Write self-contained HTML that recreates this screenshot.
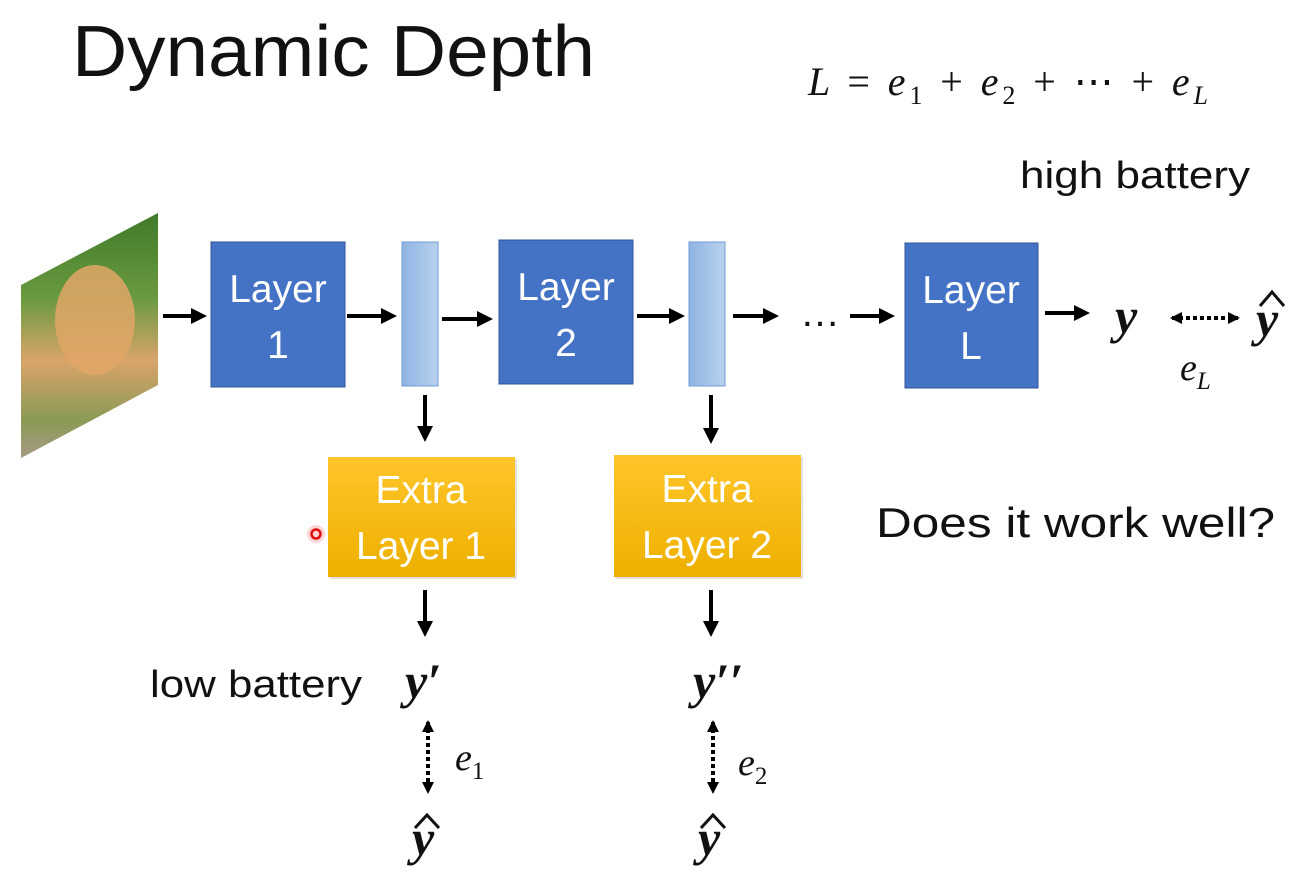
<!DOCTYPE html>
<html><head><meta charset="utf-8"><style>
html,body{margin:0;padding:0;background:#fff;}
svg{display:block;}
</style></head><body>
<svg width="1312" height="875" viewBox="0 0 1312 875" xmlns="http://www.w3.org/2000/svg">
<defs>
<marker id="ah" markerWidth="4" markerHeight="4" refX="3" refY="2" orient="auto" markerUnits="strokeWidth"><path d="M0,0 L4,2 L0,4 z" fill="#000"/></marker>
<marker id="as" markerWidth="3" markerHeight="3" refX="2.5" refY="1.5" orient="auto-start-reverse" markerUnits="strokeWidth"><path d="M0,0 L3,1.5 L0,3 z" fill="#000"/></marker>
<linearGradient id="bar" x1="0" x2="1" y1="0" y2="0"><stop offset="0" stop-color="#8FB4E3"/><stop offset="1" stop-color="#B9D1EE"/></linearGradient>
<linearGradient id="org" x1="0" x2="0" y1="0" y2="1"><stop offset="0" stop-color="#FFC52A"/><stop offset="1" stop-color="#EDB000"/></linearGradient>
<linearGradient id="cat" x1="0" x2="0" y1="0" y2="1"><stop offset="0" stop-color="#3f7a2a"/><stop offset="0.35" stop-color="#6a9a40"/><stop offset="0.6" stop-color="#d9a46a"/><stop offset="0.85" stop-color="#8a9a55"/><stop offset="1" stop-color="#a89a85"/></linearGradient>
</defs>
<text x="72" y="76" font-family="Liberation Sans, sans-serif" font-size="72" fill="#111" textLength="523" lengthAdjust="spacingAndGlyphs">Dynamic Depth</text>
<text x="808" y="95" font-family="Liberation Serif, serif" font-style="italic" font-size="40" fill="#111" textLength="400" lengthAdjust="spacing">L <tspan font-style="normal">=</tspan> e<tspan font-size="26" dy="9" font-style="normal">1</tspan><tspan dy="-9" font-style="normal"> + </tspan>e<tspan font-size="26" dy="9" font-style="normal">2</tspan><tspan dy="-9" font-style="normal"> + ⋯ + </tspan>e<tspan font-size="26" dy="9">L</tspan></text>
<text x="1020" y="188" font-family="Liberation Sans, sans-serif" font-size="38" fill="#111" textLength="230" lengthAdjust="spacingAndGlyphs">high battery</text>
<polygon points="21,285 158,213 158,385 21,458" fill="url(#cat)"/>
<ellipse cx="95" cy="320" rx="40" ry="55" fill="#e0a766" opacity="0.85"/>
<g stroke="#000" stroke-width="4" fill="none">
<line x1="163" y1="316" x2="203" y2="316" marker-end="url(#ah)"/>
<line x1="347" y1="316" x2="393" y2="316" marker-end="url(#ah)"/>
<line x1="442" y1="319" x2="489" y2="319" marker-end="url(#ah)"/>
<line x1="637" y1="316" x2="681" y2="316" marker-end="url(#ah)"/>
<line x1="733" y1="316" x2="775" y2="316" marker-end="url(#ah)"/>
<line x1="850" y1="316" x2="891" y2="316" marker-end="url(#ah)"/>
<line x1="1045" y1="313" x2="1086" y2="313" marker-end="url(#ah)"/>
<line x1="425" y1="395" x2="425" y2="438" marker-end="url(#ah)"/>
<line x1="711" y1="395" x2="711" y2="440" marker-end="url(#ah)"/>
<line x1="425" y1="590" x2="425" y2="633" marker-end="url(#ah)"/>
<line x1="711" y1="590" x2="711" y2="633" marker-end="url(#ah)"/>
<line x1="1172" y1="318" x2="1238" y2="318" stroke-dasharray="4,3" marker-start="url(#as)" marker-end="url(#as)"/>
<line x1="428" y1="722" x2="428" y2="792" stroke-dasharray="4,3" marker-start="url(#as)" marker-end="url(#as)"/>
<line x1="713" y1="722" x2="713" y2="792" stroke-dasharray="4,3" marker-start="url(#as)" marker-end="url(#as)"/>
</g>
<text x="800" y="326" font-family="Liberation Sans, sans-serif" font-size="40" fill="#111">…</text>
<g font-family="Liberation Sans, sans-serif" font-size="39" fill="#fff" text-anchor="middle">
<rect x="211" y="242" width="134" height="145" fill="#4472C4" stroke="#2F5597" stroke-width="1"/>
<text x="278" y="302">Layer</text><text x="278" y="358">1</text>
<rect x="499" y="240" width="134" height="144" fill="#4472C4" stroke="#2F5597" stroke-width="1"/>
<text x="566" y="300">Layer</text><text x="566" y="356">2</text>
<rect x="905" y="243" width="133" height="145" fill="#4472C4" stroke="#2F5597" stroke-width="1"/>
<text x="971" y="303">Layer</text><text x="971" y="359">L</text>
<rect x="402" y="242" width="36" height="144" fill="url(#bar)" stroke="#6F9BD6" stroke-width="1"/>
<rect x="689" y="242" width="36" height="144" fill="url(#bar)" stroke="#6F9BD6" stroke-width="1"/>
<rect x="330" y="459" width="187" height="120" fill="#cfcfcf" opacity="0.6"/>
<rect x="328" y="457" width="187" height="120" fill="url(#org)"/>
<text x="421" y="503">Extra</text><text x="421" y="559">Layer 1</text>
<rect x="616" y="457" width="187" height="122" fill="#cfcfcf" opacity="0.6"/>
<rect x="614" y="455" width="187" height="122" fill="url(#org)"/>
<text x="707" y="502">Extra</text><text x="707" y="558">Layer 2</text>
</g>
<circle cx="316" cy="534" r="9" fill="#ff9999" opacity="0.4"/>
<circle cx="316" cy="534" r="4.5" fill="none" stroke="#e01010" stroke-width="2.5"/>
<text x="876" y="537" font-family="Liberation Sans, sans-serif" font-size="42" fill="#111" textLength="399" lengthAdjust="spacingAndGlyphs">Does it work well?</text>
<text x="150" y="697" font-family="Liberation Sans, sans-serif" font-size="38" fill="#111" textLength="212" lengthAdjust="spacingAndGlyphs">low battery</text>
<g font-family="Liberation Serif, serif" font-style="italic" font-weight="bold" fill="#111" font-size="50">
<text x="1115" y="333">y</text>
<text x="1256" y="336">y</text>
<text x="405" y="698">y′</text>
<text x="693" y="698">y′′</text>
<text x="412" y="855">y</text>
<text x="698" y="855">y</text>
</g>
<g stroke="#111" stroke-width="3" fill="none">
<path d="M1260,306 L1272,292 L1284,306"/>
<path d="M415,828 L427,815 L439,828"/>
<path d="M701,828 L713,815 L725,828"/>
</g>
<g font-family="Liberation Serif, serif" font-style="italic" font-size="38" fill="#111">
<text x="1180" y="380">e<tspan font-size="25" dy="9">L</tspan></text>
<text x="455" y="770">e<tspan font-size="25" dy="9" font-style="normal">1</tspan></text>
<text x="738" y="775">e<tspan font-size="25" dy="9" font-style="normal">2</tspan></text>
</g>
</svg>
</body></html>
